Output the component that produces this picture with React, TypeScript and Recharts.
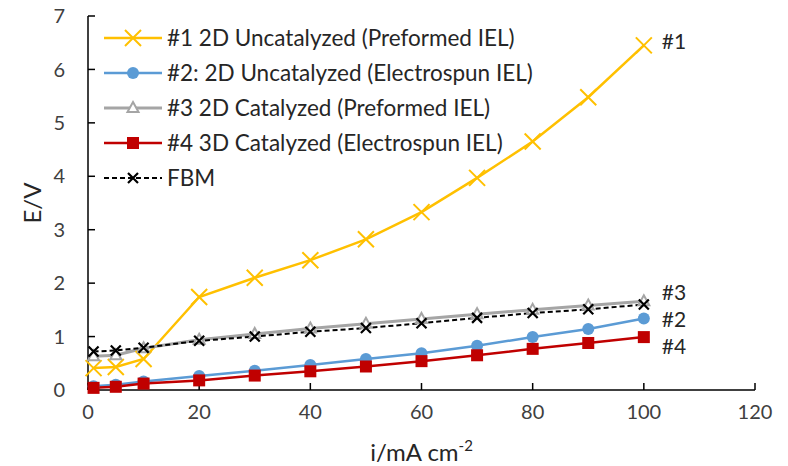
import { Label, Line, LineChart, XAxis, YAxis } from 'recharts'

const currents = [1, 5, 10, 20, 30, 40, 50, 60, 70, 80, 90, 100]
const uncat2dPreformed = [0.41, 0.43, 0.58, 1.74, 2.1, 2.43, 2.82, 3.33, 3.97, 4.65, 5.48, 6.45]
const uncat2dSpun = [0.07, 0.1, 0.16, 0.26, 0.36, 0.47, 0.58, 0.69, 0.83, 0.99, 1.14, 1.34]
const cat2dPreformed = [0.63, 0.65, 0.78, 0.94, 1.05, 1.15, 1.24, 1.33, 1.42, 1.5, 1.58, 1.66]
const cat3dSpun = [0.04, 0.06, 0.12, 0.18, 0.27, 0.35, 0.44, 0.54, 0.65, 0.77, 0.88, 0.99]
const fbm = [0.72, 0.74, 0.79, 0.92, 1.0, 1.09, 1.16, 1.25, 1.35, 1.44, 1.51, 1.6]

const xTicks = [0, 20, 40, 60, 80, 100, 120]
const yTicks = [0, 1, 2, 3, 4, 5, 6, 7]

const data = currents.map((x, i) => ({
  x,
  s1: uncat2dPreformed[i],
  s2: uncat2dSpun[i],
  s3: cat2dPreformed[i],
  s4: cat3dSpun[i],
  fbm: fbm[i],
}))

type Marker = 'cross' | 'circle' | 'triangle' | 'square' | 'smallCross'

const series: Array<{
  key: string
  name: string
  tag?: string
  tagDy?: number
  color: string
  width: number
  dash?: string
  marker: Marker
}> = [
  { key: 's1', name: '#1 2D Uncatalyzed (Preformed IEL)', tag: '#1', tagDy: -4, color: '#FFC000', width: 2.5, marker: 'cross' },
  { key: 's2', name: '#2: 2D Uncatalyzed (Electrospun IEL)', tag: '#2', tagDy: 1, color: '#5B9BD5', width: 2.5, marker: 'circle' },
  { key: 's3', name: '#3 2D Catalyzed (Preformed IEL)', tag: '#3', tagDy: -9, color: '#A5A5A5', width: 3, marker: 'triangle' },
  { key: 's4', name: '#4 3D Catalyzed (Electrospun IEL)', tag: '#4', tagDy: 10, color: '#C00000', width: 2.5, marker: 'square' },
  { key: 'fbm', name: 'FBM', color: '#000000', width: 2, dash: '5 3', marker: 'smallCross' },
]

const FONT = 'Lato, "Open Sans", sans-serif'
const TEXT = '#262626'

function MarkerShape({ cx, cy, marker, color }: { cx: number; cy: number; marker: Marker; color: string }) {
  if (cx == null || cy == null) return null
  switch (marker) {
    case 'cross': {
      const r = 8
      return (
        <path
          d={`M${cx - r},${cy - r}L${cx + r},${cy + r}M${cx + r},${cy - r}L${cx - r},${cy + r}`}
          stroke={color}
          strokeWidth={2}
          fill="none"
        />
      )
    }
    case 'smallCross': {
      const r = 5
      return (
        <path
          d={`M${cx - r},${cy - r}L${cx + r},${cy + r}M${cx + r},${cy - r}L${cx - r},${cy + r}`}
          stroke={color}
          strokeWidth={2.2}
          fill="none"
        />
      )
    }
    case 'circle':
      return <circle cx={cx} cy={cy} r={6} fill={color} stroke="none" />
    case 'square':
      return <rect x={cx - 6} y={cy - 6} width={12} height={12} fill={color} stroke="none" />
    case 'triangle':
      return (
        <path
          d={`M${cx},${cy - 6}L${cx + 5.5},${cy + 4}L${cx - 5.5},${cy + 4}Z`}
          fill="#ffffff"
          stroke={color}
          strokeWidth={2}
        />
      )
  }
}

function ChartLegend() {
  return (
    <div style={{ position: 'absolute', left: 104, top: 20, fontFamily: FONT, fontSize: 22.5, color: TEXT }}>
      {series.map((s) => (
        <div key={s.key} style={{ display: 'flex', alignItems: 'center', height: 35 }}>
          <svg width={58} height={20} style={{ marginRight: 5 }}>
            <line x1={0} x2={58} y1={10} y2={10} stroke={s.color} strokeWidth={s.width} strokeDasharray={s.dash} />
            <MarkerShape cx={29} cy={10} marker={s.marker} color={s.color} />
          </svg>
          <span>{s.name}</span>
        </div>
      ))}
    </div>
  )
}

function XTitle({ viewBox }: any) {
  const cx = viewBox.x + viewBox.width / 2
  return (
    <text x={cx} y={viewBox.y + 71} textAnchor="middle" fill={TEXT} fontSize={24} fontFamily={FONT}>
      i/mA cm
      <tspan fontSize={15} dy={-10}>-2</tspan>
    </text>
  )
}

export default function App() {
  return (
    <div style={{ position: 'absolute', left: 0, top: 0, width: 788, height: 466, background: '#fff' }}>
      <LineChart width={788} height={466} data={data} margin={{ top: 16, right: 33, left: 0, bottom: 0 }}>
        <XAxis
          dataKey="x"
          type="number"
          domain={[0, 120]}
          ticks={xTicks}
          height={76}
          tickSize={-7}
          tickMargin={22}
          tickLine={{ stroke: '#000', strokeWidth: 1.5 }}
          axisLine={{ stroke: '#000', strokeWidth: 1.5 }}
          tick={{ fontSize: 20, fill: '#404040', fontFamily: FONT }}
        >
          <Label content={<XTitle />} />
        </XAxis>
        <XAxis xAxisId="top" orientation="top" dataKey="x" type="number" domain={[0, 120]} height={0} tick={false} tickLine={false} axisLine={{ stroke: '#000', strokeWidth: 1.5 }} />
        <YAxis
          type="number"
          domain={[0, 7]}
          ticks={yTicks}
          width={88}
          tickSize={-7}
          tickMargin={30}
          tickLine={{ stroke: '#000', strokeWidth: 1.5 }}
          axisLine={{ stroke: '#000', strokeWidth: 1.5 }}
          tick={{ fontSize: 20, fill: '#404040', fontFamily: FONT }}
          label={{ value: 'E/V', angle: -90, position: 'insideLeft', offset: 32, style: { textAnchor: 'middle', fontSize: 24, fill: TEXT, fontFamily: FONT } }}
        />
        <YAxis yAxisId="right" orientation="right" type="number" domain={[0, 7]} width={0} tick={false} tickLine={false} axisLine={{ stroke: '#000', strokeWidth: 1.5 }} />
        {series.map((s) => (
          <Line
            key={s.key}
            dataKey={s.key}
            name={s.name}
            type="linear"
            stroke={s.color}
            strokeWidth={s.width}
            strokeDasharray={s.dash}
            isAnimationActive={false}
            dot={(p: any) => <MarkerShape key={`${s.key}-${p.index}`} cx={p.cx} cy={p.cy} marker={s.marker} color={s.color} />}
            activeDot={false}
            label={
              s.tag
                ? (p: any) =>
                    p.index === data.length - 1 ? (
                      <text key={`${s.key}-tag`} x={p.x + 18} y={p.y + (s.tagDy ?? 0)} dy="0.35em" fill={TEXT} fontSize={21} fontFamily={FONT}>
                        {s.tag}
                      </text>
                    ) : (
                      <g key={`${s.key}-l${p.index}`} />
                    )
                : false
            }
          />
        ))}
      </LineChart>
      <ChartLegend />
    </div>
  )
}
